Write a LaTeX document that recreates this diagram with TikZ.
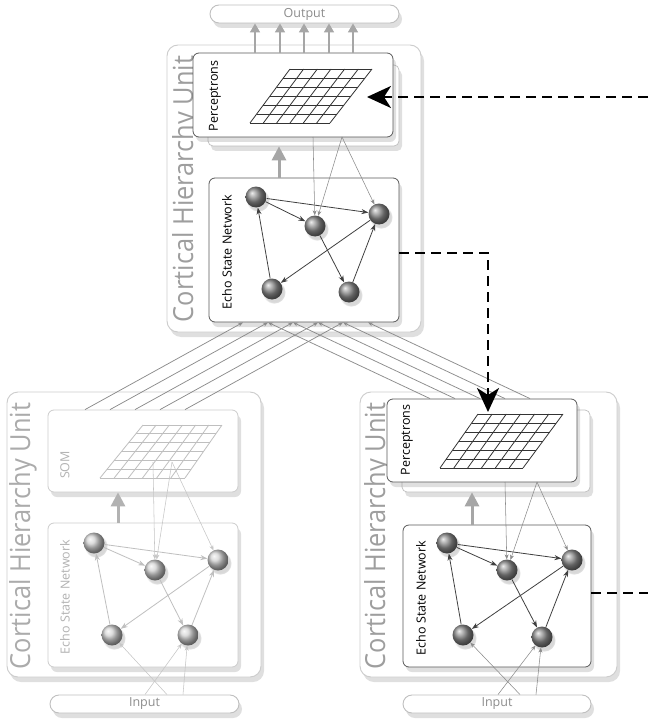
\documentclass[tikz,border=0pt]{standalone}
\usepackage{fontspec}
\setmainfont{PT Sans}
\newfontfamily\bigfont{Open Sans}
\usepackage{graphicx}
\usetikzlibrary{arrows.meta,shadows,calc}
\newcommand\mygrid[5]{%
  \foreach \i in {0,...,6}{%
    \draw[#5] ($(#1)!\i/6!(#2)$) -- ($(#3)!\i/6!(#4)$);
    \draw[#5] ($(#1)!\i/6!(#3)$) -- ($(#2)!\i/6!(#4)$);
  }}
\tikzset{
  shad/.style={drop shadow={opacity=0.25, shadow xshift=3pt, shadow yshift=-5pt}},
  unitbox/.style={draw=gray!40, line width=0.9pt, fill=white, rounded corners=11pt, inner sep=0pt, shad},
  card/.style={draw=black!65, line width=0.8pt, fill=white, rounded corners=6pt, inner sep=0pt, shad},
  fadecard/.style={card, draw=gray!40},
  backcard/.style={draw=gray!50, line width=0.7pt, fill=white, rounded corners=5pt, inner sep=0pt, shad},
  pill/.style={draw=gray!50, line width=0.9pt, fill=white, rounded corners=9pt, inner sep=0pt, shad},
  neuron/.style={circle, minimum size=21pt, inner sep=0pt, shading=ball, ball color=black!45,
    circular drop shadow={opacity=0.3, shadow xshift=2pt, shadow yshift=-3pt}},
  fneuron/.style={neuron, ball color=gray!35},
  esnedge/.style={-{Stealth[length=7pt,width=5pt]}, draw=black!75, line width=0.8pt},
  fedge/.style={esnedge, draw=gray!50},
  feed/.style={-{Stealth[length=5pt,width=4pt]}, draw=black!45, line width=0.55pt},
  ffeed/.style={feed, draw=gray!45},
  cross/.style={-{Stealth[length=5pt,width=4pt]}, draw=black!45, line width=0.75pt},
  uparrow/.style={-{Triangle[length=14pt,width=14pt]}, draw=black!35, line width=3pt},
  fuparrow/.style={uparrow, draw=black!30},
  outarrow/.style={-{Triangle[length=9pt,width=10pt]}, draw=black!35, line width=1.6pt},
  dasharrow/.style={draw=black, line width=2.6pt, dash pattern=on 10pt off 6pt},
  gridline/.style={draw=black!80, line width=0.8pt},
  fgridline/.style={draw=gray!50, line width=0.8pt},
  bigtext/.style={rotate=90, text=black!38, inner sep=0pt, font=\bigfont},
  fbigtext/.style={bigtext, text=black!33},
  lbl/.style={rotate=90, inner sep=0pt, font=\bigfont\fontsize{12.5}{13}\selectfont},
  flbl/.style={lbl, text=gray!60},
  iotext/.style={text=black!45, inner sep=0pt, font=\bigfont\fontsize{12.5}{13}\selectfont},
}
\begin{document}
\begin{tikzpicture}[x=1pt,y=-1pt]
\useasboundingbox[fill=white] (0,0) rectangle (648,722);

% ---------------- TOP UNIT ----------------
\node[pill, minimum width=189pt, minimum height=18pt] (out) at (304.5,14) {};
\node[iotext] (outt) at (304.5,14) {Output};

\node[unitbox, minimum width=254pt, minimum height=287pt] (tu) at (294,188.5) {};
\node[bigtext] (tut) at (186,189) {\resizebox{266pt}{21pt}{Cortical Hierarchy Unit}};

\node[backcard, minimum width=191pt, minimum height=81pt] (tpb) at (303.5,105.5) {};
\node[card, minimum width=200pt, minimum height=84pt] (tp) at (293,95) {};
\coordinate (tgTL) at (290,69); \coordinate (tgTR) at (372,69);
\coordinate (tgBL) at (250,123); \coordinate (tgBR) at (330,123);
\mygrid{tgTL}{tgTR}{tgBL}{tgBR}{gridline}
\node[lbl] (tpt) at (215,96) {Perceptrons};

\foreach \x in {255,280,304,329,353}
  \draw[outarrow] (tp.north -| \x,0) -- (out.south -| \x,0);

\node[card, minimum width=190pt, minimum height=144pt] (tesn) at (304,250) {};
\node[lbl] (tesnt) at (227,252) {Echo State Network};
\node[neuron] (ta) at (256,197) {};
\node[neuron] (tb) at (315,226) {};
\node[neuron] (tc) at (379,214) {};
\node[neuron] (td) at (272,289) {};
\node[neuron] (te) at (349,292) {};
\draw[esnedge] (ta) -- (tb);
\draw[esnedge] (ta) -- (tc);
\draw[esnedge] (td) -- (ta);
\draw[esnedge] (tb) -- (te);
\draw[esnedge] (te) -- (tc);
\draw[esnedge] (tc) -- (td);

\draw[uparrow] (tesn.north -| 279,0) -- (tpb.south -| 279,0);
\coordinate (tf1) at (313,137);
\coordinate (tf2) at (342,137);
\draw[feed] (tf1) -- (tb);
\draw[feed] (tf2) -- (tb);
\draw[feed] (tf2) -- (tc);

% ---------------- LEFT UNIT ----------------
\node[unitbox, minimum width=254pt, minimum height=285pt] (lu) at (134,534.5) {};
\node[fbigtext] (lut) at (23,536) {\resizebox{266pt}{21pt}{Cortical Hierarchy Unit}};
\node[fadecard, minimum width=190pt, minimum height=82pt] (som) at (143,451) {};
\coordinate (lgTL) at (143,425); \coordinate (lgTR) at (222,425);
\coordinate (lgBL) at (100,478); \coordinate (lgBR) at (185,478);
\mygrid{lgTL}{lgTR}{lgBL}{lgBR}{fgridline}
\node[flbl] (somt) at (65,465) {SOM};

\node[fadecard, minimum width=190pt, minimum height=144pt] (lesn) at (143,595) {};
\node[flbl] (lesnt) at (65,597) {Echo State Network};
\node[fneuron] (la) at (94,543) {};
\node[fneuron] (lb) at (155,570) {};
\node[fneuron] (lc) at (218,560) {};
\node[fneuron] (ld) at (112,635) {};
\node[fneuron] (le) at (188,635) {};
\draw[fedge] (la) -- (lb);
\draw[fedge] (la) -- (lc);
\draw[fedge] (ld) -- (la);
\draw[fedge] (lb) -- (le);
\draw[fedge] (le) -- (lc);
\draw[fedge] (lc) -- (ld);

\draw[fuparrow] (lesn.north -| 118,0) -- (som.south -| 118,0);
\coordinate (lf1) at (153,462);
\coordinate (lf2) at (172,462);
\draw[ffeed] (lf1) -- (lb);
\draw[ffeed] (lf2) -- (lb);
\draw[ffeed] (lf2) -- (lc);

\node[pill, minimum width=189pt, minimum height=18pt] (lin) at (144.5,704) {};
\node[iotext] (lint) at (144.5,704) {Input};
\draw[ffeed] (lin.north -| 145,0) -- (le);
\draw[ffeed] (lin.north -| 167,0) -- (ld);
\draw[ffeed] (lin.north -| 183,0) -- (le);

% ---------------- RIGHT UNIT ----------------
\node[unitbox, minimum width=257pt, minimum height=285pt] (ru) at (488.5,534.5) {};
\node[bigtext] (rut) at (378,536) {\resizebox{266pt}{21pt}{Cortical Hierarchy Unit}};
\node[backcard, minimum width=188pt, minimum height=82pt] (rpb) at (496,451) {};
\node[card, minimum width=190pt, minimum height=83pt] (rp) at (482,440.5) {};
\coordinate (rgTL) at (478,414); \coordinate (rgTR) at (563,414);
\coordinate (rgBL) at (440,468); \coordinate (rgBR) at (523,468);
\mygrid{rgTL}{rgTR}{rgBL}{rgBR}{gridline}
\node[lbl] (rpt) at (407,440) {Perceptrons};

\node[card, minimum width=188pt, minimum height=142pt] (resn) at (497,596) {};
\node[lbl] (resnt) at (421,598) {Echo State Network};
\node[neuron] (ra) at (447,543) {};
\node[neuron] (rb) at (507,570) {};
\node[neuron] (rc) at (572,560) {};
\node[neuron] (rd) at (463,635) {};
\node[neuron] (re) at (542,637) {};
\draw[esnedge] (ra) -- (rb);
\draw[esnedge] (ra) -- (rc);
\draw[esnedge] (rd) -- (ra);
\draw[esnedge] (rb) -- (re);
\draw[esnedge] (re) -- (rc);
\draw[esnedge] (rc) -- (rd);

\draw[uparrow] (resn.north -| 472,0) -- (rpb.south -| 472,0);
\coordinate (rf1) at (505,482);
\coordinate (rf2) at (537,482);
\draw[feed] (rf1) -- (rb);
\draw[feed] (rf2) -- (rb);
\draw[feed] (rf2) -- (rc);

\node[pill, minimum width=188pt, minimum height=18pt] (rin) at (497,704) {};
\node[iotext] (rint) at (497,704) {Input};
\draw[feed] (rin.north -| 498,0) -- (re);
\draw[feed] (rin.north -| 520,0) -- (rd);
\draw[feed] (rin.north -| 536,0) -- (re);

% ---------------- CROSSING CONNECTIONS ----------------
\foreach \k in {0,...,4}{
  \draw[cross] (som.north -| {85+25*\k},0) -- (tesn.south -| {243+25*\k},0);
  \draw[cross] (rp.north -| {430+25*\k},0) -- (tesn.south -| {268+25*\k},0);
}

% ---------------- DASHED FEEDBACK ----------------
\coordinate (e1) at (648,97);
\coordinate (d1tip) at (367,97);
\draw[dasharrow, -{Stealth[length=24pt,width=22pt,inset=7pt]}] (e1) -- (d1tip);
\coordinate (d2tip) at (488,412);
\draw[dasharrow, -{Stealth[length=24pt,width=22pt,inset=7pt]}] ($(tesn.east)+(0,3)$) -| (d2tip);
\coordinate (e3) at (648,593);
\draw[dasharrow] (resn.east |- e3) -- (e3);
\end{tikzpicture}
\end{document}
